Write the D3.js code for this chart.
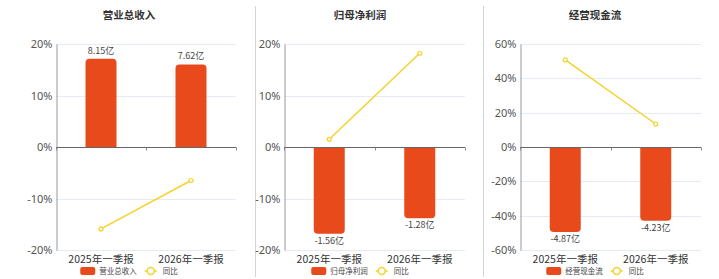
<!DOCTYPE html>
<html>
<head>
<meta charset="utf-8">
<script src="https://cdn.jsdelivr.net/npm/d3@7"></script>
<style>
  body { margin: 0; background: #fff; }
  svg { display: block; font-family: "Noto Sans CJK SC", "Noto Sans", sans-serif; }
</style>
</head>
<body>
<svg id="chart" width="719" height="279"></svg>
<script>
const categories = ["2025年一季报", "2026年一季报"];

const titles = ["营业总收入", "归母净利润", "经营现金流"];
const revenue = [8.15, 7.62];
const revenueYoY = [-15.9, -6.5];
const netProfit = [-1.56, -1.28];
const netProfitYoY = [1.5, 18.2];
const cashFlow = [-4.87, -4.23];
const cashFlowYoY = [50.8, 13.4];

const pctTicks12 = [-20, -10, 0, 10, 20];
const pctTicks3 = [-60, -40, -20, 0, 20, 40, 60];
const barAxisMax = [9.5, 1.85, 5.9]; // hidden bar axis, symmetric around 0

const barColor = "#E84A1B";
const lineColor = "#F5D32B";

const svg = d3.select("#chart");

const panels = [
  { title: titles[0], bars: revenue, yoy: revenueYoY, ticks: pctTicks12, barMax: barAxisMax[0], x0: 56, x1: 236, cx: 129 },
  { title: titles[1], bars: netProfit, yoy: netProfitYoY, ticks: pctTicks12, barMax: barAxisMax[1], x0: 284, x1: 465, cx: 360 },
  { title: titles[2], bars: cashFlow, yoy: cashFlowYoY, ticks: pctTicks3, barMax: barAxisMax[2], x0: 520, x1: 701, cx: 595 }
];

// panel dividers
[255, 483].forEach(x => {
  svg.append("line").attr("x1", x + 0.5).attr("x2", x + 0.5).attr("y1", 6).attr("y2", 277)
    .attr("stroke", "#d4d4d4").attr("stroke-width", 1);
});

const yTop = 44, yBot = 250;

panels.forEach(p => {
  const g = svg.append("g");

  const x = d3.scaleBand().domain(categories).range([p.x0, p.x1]);
  const y = d3.scaleLinear().domain(d3.extent(p.ticks)).range([yBot, yTop]);
  const yb = d3.scaleLinear().domain([-p.barMax, p.barMax]).range([yBot, yTop]);

  // title
  g.append("text").attr("x", p.cx).attr("y", 19).attr("text-anchor", "middle")
    .attr("font-size", 10.5).attr("font-weight", "bold").attr("fill", "#333").text(p.title);

  // grid lines
  g.selectAll(".grid").data(p.ticks.filter(t => t !== 0)).join("line")
    .attr("x1", p.x0).attr("x2", p.x1)
    .attr("y1", d => Math.round(y(d)) + 0.5).attr("y2", d => Math.round(y(d)) + 0.5)
    .attr("stroke", "#E5EAF3");

  // y axis
  const yAxis = g.append("g").attr("transform", `translate(${p.x0 + 0.5},0)`)
    .call(d3.axisLeft(y).tickValues(p.ticks).tickFormat(d => d + "%").tickSize(0).tickPadding(4));
  yAxis.select(".domain").attr("stroke", "#999");
  yAxis.selectAll("text").attr("font-size", 11).attr("fill", "#555")
    .attr("font-family", "'Noto Sans', sans-serif");

  // bars
  const bw = 31;
  g.selectAll(".bar").data(p.bars).join("path")
    .attr("fill", barColor)
    .attr("d", (d, i) => {
      const cx = x(categories[i]) + x.bandwidth() / 2;
      const l = cx - bw / 2, r = cx + bw / 2;
      const y0 = yb(0), y1 = yb(d), rad = 4;
      if (d >= 0) {
        return `M${l},${y0}V${y1 + rad}Q${l},${y1} ${l + rad},${y1}H${r - rad}Q${r},${y1} ${r},${y1 + rad}V${y0}Z`;
      }
      return `M${l},${y0}V${y1 - rad}Q${l},${y1} ${l + rad},${y1}H${r - rad}Q${r},${y1} ${r},${y1 - rad}V${y0}Z`;
    });

  // bar labels
  g.selectAll(".blab").data(p.bars).join("text")
    .attr("x", (d, i) => x(categories[i]) + x.bandwidth() / 2)
    .attr("y", d => d >= 0 ? yb(d) - 5 : yb(d) + 10)
    .attr("text-anchor", "middle").attr("font-size", 9).attr("fill", "#444")
    .text(d => d.toFixed(2) + "亿");

  // x axis (zero line)
  const z = Math.round(y(0)) + 0.5;
  g.append("line").attr("x1", p.x0).attr("x2", p.x1).attr("y1", z).attr("y2", z)
    .attr("stroke", "#666");
  [p.x0, p.x0 + x.bandwidth(), p.x1].forEach(t => {
    g.append("line").attr("x1", Math.round(t) + 0.5).attr("x2", Math.round(t) + 0.5)
      .attr("y1", z).attr("y2", z + 3).attr("stroke", "#888");
  });

  // x labels
  g.selectAll(".xlab").data(categories).join("text")
    .attr("x", d => x(d) + x.bandwidth() / 2).attr("y", 263)
    .attr("text-anchor", "middle").attr("font-size", 10.5).attr("fill", "#333").text(d => d);

  // yoy line
  const line = d3.line().x((d, i) => x(categories[i]) + x.bandwidth() / 2).y(d => y(d));
  g.append("path").datum(p.yoy).attr("d", line).attr("fill", "none")
    .attr("stroke", lineColor).attr("stroke-width", 1.5);
  g.selectAll(".pt").data(p.yoy).join("circle")
    .attr("cx", (d, i) => x(categories[i]) + x.bandwidth() / 2).attr("cy", d => y(d))
    .attr("r", 2).attr("fill", "#fff").attr("stroke", lineColor).attr("stroke-width", 1.2);

  // legend
  const lg = g.append("g");
  const ly = 271;
  lg.append("rect").attr("x", 0).attr("y", ly - 4).attr("width", 15).attr("height", 8).attr("rx", 2).attr("fill", barColor);
  const t1 = lg.append("text").attr("x", 19).attr("y", ly + 3).attr("font-size", 7.5).attr("fill", "#444").text(p.title);
  const w1 = t1.node().getComputedTextLength();
  const ix = 19 + w1 + 8;
  lg.append("line").attr("x1", ix).attr("x2", ix + 12).attr("y1", ly).attr("y2", ly).attr("stroke", lineColor).attr("stroke-width", 1.5);
  lg.append("circle").attr("cx", ix + 6).attr("cy", ly).attr("r", 3.5).attr("fill", "#fff").attr("stroke", lineColor).attr("stroke-width", 1.5);
  const t2 = lg.append("text").attr("x", ix + 18).attr("y", ly + 3).attr("font-size", 7.5).attr("fill", "#444").text("同比");
  const total = ix + 18 + t2.node().getComputedTextLength();
  lg.attr("transform", `translate(${p.cx - total / 2},0)`);
});
</script>
</body>
</html>
